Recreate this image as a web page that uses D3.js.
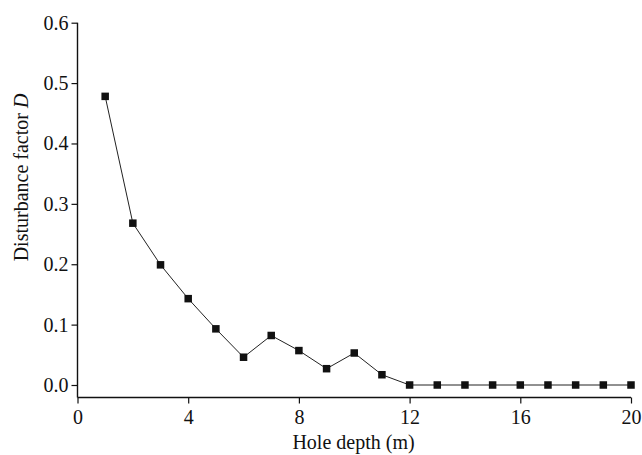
<!DOCTYPE html>
<html>
<head>
<meta charset="utf-8">
<script src="https://cdn.jsdelivr.net/npm/d3@7"></script>
<style>
  html, body { margin: 0; padding: 0; background: #fff; }
  svg text { font-family: "Liberation Serif", "Times New Roman", serif; fill: #111; }
</style>
</head>
<body>
<svg id="chart" width="642" height="455"></svg>
<script>
// Hole depth (m) and measured disturbance factor D
const depths = [1, 2, 3, 4, 5, 6, 7, 8, 9, 10, 11, 12, 13, 14, 15, 16, 17, 18, 19, 20];
const disturbance = [0.478, 0.268, 0.199, 0.143, 0.093, 0.046, 0.082, 0.057, 0.027, 0.053, 0.017,
                     0, 0, 0, 0, 0, 0, 0, 0, 0];
const xTicks = [0, 4, 8, 12, 16, 20];
const yTicks = [0.0, 0.1, 0.2, 0.3, 0.4, 0.5, 0.6];

const serif = "'Liberation Serif', 'Times New Roman', serif";
const svg = d3.select("#chart");
const plotLeft = 77.5, plotRight = 631, plotTop = 22.7, zeroY = 385, plotBottom = 397.5;

const x = d3.scaleLinear().domain([0, 20]).range([plotLeft, plotRight]);
const y = d3.scaleLinear().domain([0, 0.6]).range([zeroY, plotTop]);

const fontSize = 20;

// y axis
const yAxis = svg.append("g")
  .attr("transform", `translate(${plotLeft},0)`)
  .call(d3.axisLeft(y).tickValues(yTicks).tickFormat(d3.format(".1f")).tickSize(6).tickPadding(3));
yAxis.attr("font-family", serif).attr("font-size", fontSize);
yAxis.select(".domain").remove();

// x axis
const xAxis = svg.append("g")
  .attr("transform", `translate(0,${plotBottom})`)
  .call(d3.axisBottom(x).tickValues(xTicks).tickSize(6).tickPadding(6));
xAxis.attr("font-family", serif).attr("font-size", fontSize);
xAxis.select(".domain").remove();
svg.selectAll(".tick line").attr("stroke", "#111").attr("stroke-width", 1.2);

// axis lines
svg.append("line").attr("x1", plotLeft).attr("x2", plotLeft).attr("y1", plotTop).attr("y2", plotBottom)
  .attr("stroke", "#111").attr("stroke-width", 1.4);
svg.append("line").attr("x1", plotLeft).attr("x2", plotRight).attr("y1", plotBottom).attr("y2", plotBottom)
  .attr("stroke", "#111").attr("stroke-width", 1.4);

// data line
const pts = depths.map((d, i) => [d, disturbance[i]]);
svg.append("path")
  .datum(pts)
  .attr("fill", "none")
  .attr("stroke", "#222")
  .attr("stroke-width", 1)
  .attr("d", d3.line().x(d => x(d[0])).y(d => y(d[1])));

// square markers
const s = 7.5;
svg.append("g").selectAll("rect")
  .data(pts)
  .join("rect")
  .attr("x", d => x(d[0]) - s / 2)
  .attr("y", d => y(d[1]) - s / 2)
  .attr("width", s)
  .attr("height", s)
  .attr("fill", "#111");

// axis titles
svg.append("text")
  .attr("x", 353.5)
  .attr("y", 449)
  .attr("text-anchor", "middle")
  .attr("font-family", serif)
  .style("font-size", fontSize + "px")
  .text("Hole depth (m)");

const yt = svg.append("text")
  .attr("transform", `translate(27.5,177.5) rotate(-90)`)
  .attr("text-anchor", "middle")
  .attr("font-family", serif)
  .style("font-size", fontSize + "px");
yt.append("tspan").text("Disturbance factor ");
yt.append("tspan").attr("font-style", "italic").text("D");
</script>
</body>
</html>
